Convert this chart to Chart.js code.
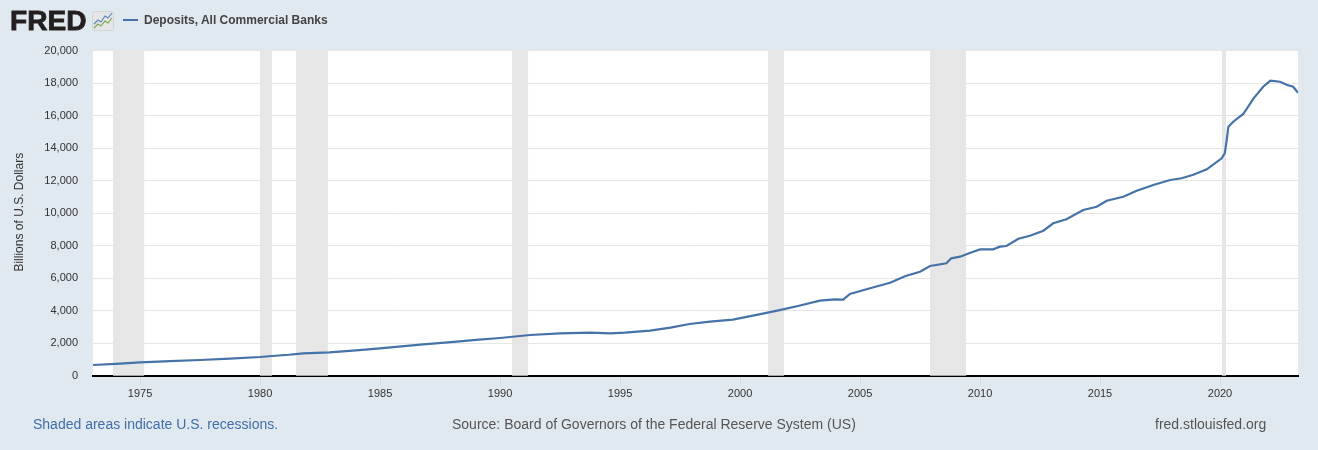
<!DOCTYPE html>
<html>
<head>
<meta charset="utf-8">
<script src="https://cdn.jsdelivr.net/npm/chart.js@4"></script>
<style>
  html, body { margin: 0; padding: 0; background: #e1e9f0; }
  #wrap { position: relative; width: 1318px; height: 450px; font-family: "Liberation Sans", Arial, sans-serif; }
  #c { position: absolute; left: 0; top: 0; }
  .logo { position: absolute; left: 10px; top: 8px; font-size: 27px; line-height: 26px; font-weight: bold; color: #231f20;
          letter-spacing: 0; transform: scaleX(1.04); transform-origin: 0 0; -webkit-text-stroke: 0.8px #231f20; }
  .icon { position: absolute; left: 92px; top: 11px; }
  .leg-line { position: absolute; left: 123px; top: 19px; width: 15px; height: 2px; background: #4572a7; }
  .leg-text { position: absolute; left: 144px; top: 13px; font-size: 12px; font-weight: bold; color: #444; }
  .foot { position: absolute; top: 416px; font-size: 14px; }
</style>
</head>
<body>
<div id="wrap">
  <canvas id="c" width="1318" height="450"></canvas>
  <div class="logo">FRED</div>
  <svg class="icon" width="22" height="20" viewBox="0 0 22 20">
    <rect x="0.5" y="0.5" width="21" height="19" rx="2" fill="#e4e6e8" stroke="#d3d6d9"/>
    <polyline points="2,13 6,9 9,11 13,5 16,7 20,2" fill="none" stroke="#5b86b8" stroke-width="1.2"/>
    <polyline points="2,17 6,13 9,15 13,10 16,12 20,7" fill="none" stroke="#7aa84a" stroke-width="1.2"/>
  </svg>
  <div class="leg-line"></div>
  <div class="leg-text">Deposits, All Commercial Banks</div>
  <div class="foot" style="left:33px; color:#3f6ea8;">Shaded areas indicate U.S. recessions.</div>
  <div class="foot" style="left:452px; color:#555;">Source: Board of Governors of the Federal Reserve System (US)</div>
  <div class="foot" style="left:1155px; color:#555;">fred.stlouisfed.org</div>
</div>
<script>
// decimal years and deposits (billions of dollars)
var years = [1973.04, 1974.0, 1975.0, 1976.25, 1977.5, 1978.75, 1980.0, 1980.5, 1981.2, 1981.8,
  1982.9, 1984.0, 1985.0, 1986.0, 1986.8, 1988.2, 1989.0, 1990.0, 1991.25, 1992.5,
  1993.75, 1994.6, 1995.2, 1996.25, 1997.1, 1997.9, 1998.75, 1999.7, 2000.8, 2001.7,
  2002.5, 2003.33, 2003.96, 2004.3, 2004.58, 2005.42, 2006.25, 2006.9, 2007.5, 2007.92,
  2008.6, 2008.8, 2009.17, 2009.6, 2010.0, 2010.55, 2010.83, 2011.1, 2011.6, 2012.08,
  2012.64, 2013.05, 2013.6, 2014.3, 2014.86, 2015.28, 2015.97, 2016.53, 2017.22, 2017.92,
  2018.4, 2018.89, 2019.45, 2020.07, 2020.2, 2020.28, 2020.35, 2020.55, 2020.97, 2021.4,
  2021.8, 2022.1, 2022.5, 2022.8, 2023.05, 2023.25];
var deposits = [658, 730, 825, 895, 966, 1050, 1150, 1212, 1290, 1378,
  1440, 1560, 1686, 1820, 1932, 2092, 2200, 2320, 2505, 2607,
  2647, 2607, 2647, 2770, 2955, 3180, 3323, 3446, 3774, 4050,
  4320, 4615, 4700, 4680, 5028, 5378, 5723, 6135, 6400, 6750,
  6915, 7223, 7323, 7570, 7775, 7775, 7940, 7980, 8430, 8615,
  8925, 9380, 9625, 10195, 10400, 10770, 11015, 11385, 11735, 12045,
  12150, 12370, 12700, 13380, 13690, 14500, 15325, 15630, 16105, 17070,
  17785, 18155, 18090, 17890, 17785, 17415];

var recessionStart = [1973.875, 1980.0, 1981.5, 1990.5, 2001.17, 2007.92, 2020.08];
var recessionEnd = [1975.17, 1980.5, 1982.83, 1991.17, 2001.83, 2009.42, 2020.25];

var xTicks = [1975, 1980, 1985, 1990, 1995, 2000, 2005, 2010, 2015, 2020];
var yTicks = [0, 2000, 4000, 6000, 8000, 10000, 12000, 14000, 16000, 18000, 20000];

var points = years.map(function (y, i) { return { x: y, y: deposits[i] }; });

var fredPlot = {
  id: 'fredPlot',
  beforeDraw: function (chart) {
    var a = chart.chartArea, ctx = chart.ctx;
    ctx.save();
    ctx.fillStyle = '#ffffff';
    ctx.fillRect(a.left, a.top, a.right - a.left, a.bottom - a.top);
    ctx.restore();
  },
  beforeDatasetsDraw: function (chart) {
    var a = chart.chartArea, ctx = chart.ctx, xs = chart.scales.x;
    ctx.save();
    ctx.fillStyle = '#e6e6e6';
    for (var i = 0; i < recessionStart.length; i++) {
      var x0 = xs.getPixelForValue(recessionStart[i]);
      var x1 = xs.getPixelForValue(recessionEnd[i]);
      ctx.fillRect(x0, a.top, x1 - x0, a.bottom - a.top);
    }
    ctx.restore();
  },
  afterDraw: function (chart) {
    var a = chart.chartArea, ctx = chart.ctx;
    ctx.save();
    ctx.translate(20, (a.top + a.bottom) / 2 - 1);
    ctx.rotate(-Math.PI / 2);
    ctx.font = '12px "Liberation Sans", Arial, sans-serif';
    ctx.fillStyle = '#333';
    ctx.textAlign = 'center';
    ctx.textBaseline = 'middle';
    ctx.fillText('Billions of U.S. Dollars', 0, 0);
    ctx.restore();
  }
};

new Chart(document.getElementById('c'), {
  type: 'line',
  data: {
    datasets: [{
      data: points,
      borderColor: '#4572a7',
      borderWidth: 2.2,
      pointRadius: 0,
      tension: 0,
      fill: false
    }]
  },
  options: {
    responsive: false,
    animation: false,
    layout: { padding: { left: 0, right: 20, top: 50.7, bottom: 44.3 } },
    plugins: { legend: { display: false }, tooltip: { enabled: false } },
    scales: {
      x: {
        type: 'linear',
        min: 1973.04,
        max: 2023.25,
        afterBuildTicks: function (s) { s.ticks = xTicks.map(function (v) { return { value: v }; }); },
        afterFit: function (s) { s.height = 30; },
        grid: { drawOnChartArea: false, drawTicks: true, tickLength: 9, color: '#ccd6eb' },
        border: { display: true, color: '#000000', width: 2 },
        ticks: {
          padding: 3,
          maxRotation: 0,
          color: '#333',
          font: { family: '"Liberation Sans", Arial, sans-serif', size: 11 },
          callback: function (v) { return String(v); }
        }
      },
      y: {
        min: 0,
        max: 20000,
        afterBuildTicks: function (s) { s.ticks = yTicks.map(function (v) { return { value: v }; }); },
        afterFit: function (s) { s.width = 93; },
        grid: { color: '#e6e6e6', drawTicks: false },
        border: { display: false },
        ticks: {
          padding: 15,
          color: '#333',
          font: { family: '"Liberation Sans", Arial, sans-serif', size: 11 },
          callback: function (v) { return v.toLocaleString('en-US'); }
        }
      }
    }
  },
  plugins: [fredPlot]
});
</script>
</body>
</html>
